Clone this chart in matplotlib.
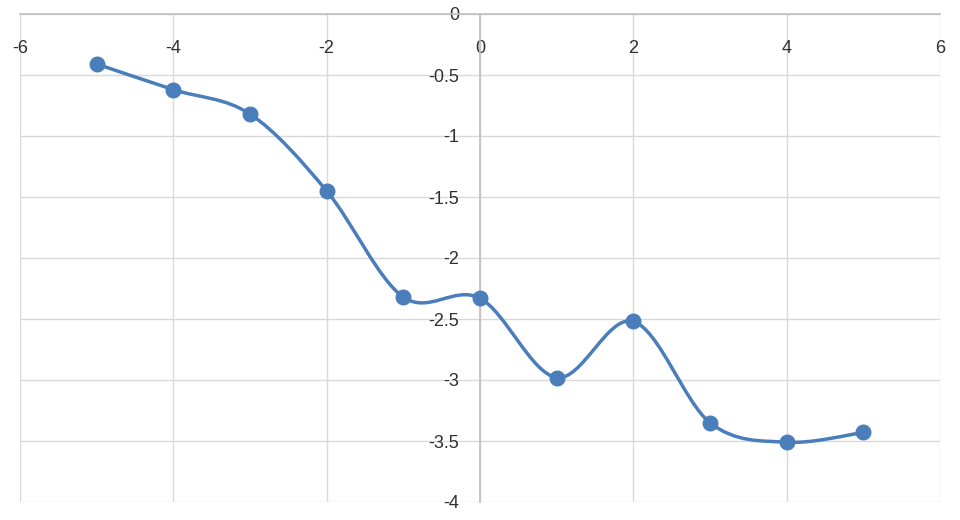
import matplotlib.pyplot as plt
import numpy as np
from matplotlib.path import Path
from matplotlib.patches import PathPatch

# values
x_vals = [-5, -4, -3, -2, -1, 0, 1, 2, 3, 4, 5]
y_vals = [-0.41, -0.62, -0.82, -1.45, -2.32, -2.33, -2.98, -2.52, -3.35, -3.51, -3.43]
x_ticks = [-6, -4, -2, 0, 2, 4, 6]
y_ticks = [0, -0.5, -1, -1.5, -2, -2.5, -3, -3.5, -4]
y_tick_labels = ['0', '-0.5', '-1', '-1.5', '-2', '-2.5', '-3', '-3.5', '-4']

line_color = '#4a7ebb'
grid_color = '#d9d9d9'
axis_color = '#bfbfbf'
text_color = '#303030'

plt.rcParams['font.family'] = ['Liberation Sans', 'DejaVu Sans']
plt.rcParams['axes.unicode_minus'] = False

fig = plt.figure(figsize=(9.6, 5.2), dpi=100)
ax = fig.add_axes([20 / 960, 1 - 502 / 520, 920 / 960, 488 / 520])
ax.set_xlim(-6, 6)
ax.set_ylim(-4, 0)

# smooth line like excel: catmull-rom segments as cubic bezier
pts = np.column_stack([x_vals, y_vals])
verts = [tuple(pts[0])]
codes = [Path.MOVETO]
n = len(pts)
for i in range(n - 1):
    p0 = pts[max(i - 1, 0)]
    p1 = pts[i]
    p2 = pts[i + 1]
    p3 = pts[min(i + 2, n - 1)]
    c1 = p1 + (p2 - p0) / 6
    c2 = p2 - (p3 - p1) / 6
    verts += [tuple(c1), tuple(c2), tuple(p2)]
    codes += [Path.CURVE4, Path.CURVE4, Path.CURVE4]
curve = PathPatch(Path(verts, codes), facecolor='none', edgecolor=line_color,
                  linewidth=2.5, zorder=3, capstyle='round', joinstyle='round')
ax.add_patch(curve)
ax.plot(x_vals, y_vals, linestyle='none', marker='o', markersize=10.5,
        color=line_color, zorder=4, clip_on=False)

# grid
ax.set_xticks(x_ticks)
ax.set_yticks(y_ticks)
ax.set_yticklabels(y_tick_labels)
ax.grid(True, color=grid_color, linewidth=1.0)
ax.set_axisbelow(True)
for line in ax.get_xgridlines() + ax.get_ygridlines():
    line.set_clip_on(False)

# axes crossing at zero
ax.spines['left'].set_position(('data', 0))
ax.spines['bottom'].set_position(('data', 0))
ax.spines['left'].set_color(axis_color)
ax.spines['bottom'].set_color(axis_color)
ax.spines['left'].set_linewidth(1.2)
ax.spines['bottom'].set_linewidth(1.2)
ax.spines['right'].set_visible(False)
ax.spines['top'].set_visible(False)

ax.tick_params(axis='x', length=0, pad=19, labelsize=13, labelcolor=text_color)
ax.tick_params(axis='y', length=0, pad=15, labelsize=13, labelcolor=text_color)

fig.savefig('out.png', dpi=100)
